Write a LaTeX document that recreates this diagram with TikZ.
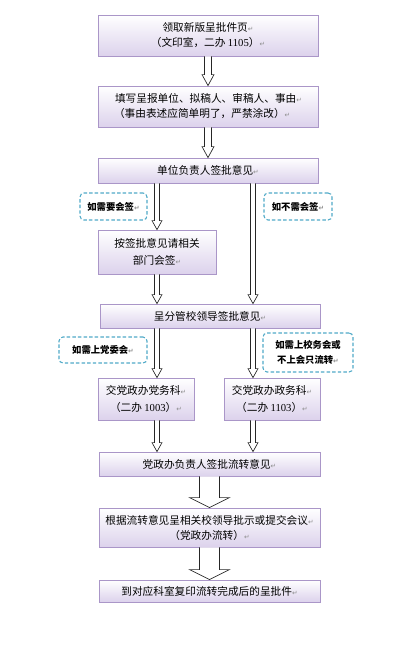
\documentclass[tikz,border=0pt]{standalone}
\usepackage{fontspec}
\setmainfont{Noto Sans CJK SC}
\newfontfamily\dejavu{DejaVu Sans}
\newfontfamily\latserif{Liberation Serif}
\usetikzlibrary{calc,shadows}
\definecolor{boxborder}{RGB}{170,150,200}
\definecolor{boxbot}{RGB}{220,210,236}
\definecolor{dashcol}{RGB}{80,170,200}
\newcommand\rt{{\dejavu\color{black!45}\fontsize{5}{5}\selectfont ↵}}
\newcommand\hollowarrow[5]{%
  \path #1 coordinate (ha) #2 coordinate (hb);
  \draw[arrowline] ($(ha)+(-#3,0)$) -- ($(hb)+(-#3,-#5)$) -- ($(hb)+(-#4,-#5)$) -- (hb)
    -- ($(hb)+(#4,-#5)$) -- ($(hb)+(#3,-#5)$) -- ($(ha)+(#3,0)$);
}
\begin{document}
\begin{tikzpicture}[x=0.75pt,y=-0.75pt,
  flowbox/.style={draw=boxborder, line width=0.6pt, top color=white, bottom color=boxbot,
    inner sep=0pt, align=center, font=\fontsize{8}{11.25}\selectfont,
    drop shadow={opacity=0.18, shadow xshift=0.8pt, shadow yshift=-0.8pt}},
  notebox/.style={draw=dashcol, line width=0.8pt, dash pattern=on 2.6pt off 1.6pt,
    rounded corners=3pt, fill=white, inner sep=0pt, align=center,
    font=\bfseries\fontsize{7}{11.25}\selectfont},
  arrowline/.style={draw=black!85, line width=0.5pt, fill=white, line join=miter}]
\fill[white] (0,0) rectangle (400,648);
\useasboundingbox (0,0) rectangle (400,648);
\coordinate (lx) at (157,0);
\coordinate (rx) at (253,0);
% boxes
\node[flowbox, minimum width=165pt, minimum height=30.75pt] (b1) at (208,35.5)
  {领取新版呈批件页\rt\\（文印室，二办 {\latserif 1105}）\rt};
\node[flowbox, minimum width=165pt, minimum height=30.75pt, align=left] (b2) at (208,106.5)
  {\hspace*{0.8pt}填写呈报单位、拟稿人、审稿人、事由\rt\\（事由表述应简单明了，严禁涂改）\rt};
\node[flowbox, minimum width=165pt, minimum height=18.75pt] (b3) at (208,170.5)
  {单位负责人签批意见\rt};
\node[flowbox, minimum width=88.5pt, minimum height=33pt, font=\fontsize{8}{12.75}\selectfont] (b4) at (157,252)
  {按签批意见请相关\\部门会签\rt};
\node[flowbox, minimum width=165pt, minimum height=18pt] (b5) at (210,316)
  {呈分管校领导签批意见\rt};
\node[flowbox, minimum width=72pt, minimum height=31.5pt, font=\fontsize{8}{12.75}\selectfont] (b6) at (146,399)
  {交党政办党务科\rt\\（二办 {\latserif 1003}）\rt};
\node[flowbox, minimum width=72pt, minimum height=31.5pt, font=\fontsize{8}{12.75}\selectfont] (b7) at (272,399)
  {交党政办政务科\rt\\（二办 {\latserif 1103}）\rt};
\node[flowbox, minimum width=165.75pt, minimum height=18pt] (b8) at (209.5,464)
  {党政办负责人签批流转意见\rt};
\node[flowbox, minimum width=165.75pt, minimum height=29.25pt] (b9) at (209.5,527.5)
  {根据流转意见呈相关校领导批示或提交会议\rt\\（党政办流转）\rt};
\node[flowbox, minimum width=165.75pt, minimum height=16.5pt] (b10) at (209.5,591)
  {到对应科室复印流转完成后的呈批件\rt};
% dashed notes
\node[notebox, minimum width=50.25pt, minimum height=20.25pt] (d1) at (113.5,206.5) {如需要会签\rt};
\node[notebox, minimum width=51pt, minimum height=20.25pt] (d2) at (298,206.5) {如不需会签\rt};
\node[notebox, minimum width=66pt, minimum height=19.5pt] (d3) at (103,350) {如需上党委会\rt};
\node[notebox, minimum width=67.5pt, minimum height=29.25pt] (d4) at (308,352.5) {如需上校务会或\\不上会只流转\rt};
% arrows
\hollowarrow{(b1.south)}{(b2.north)}{3.5}{6}{11}
\hollowarrow{(b2.south)}{(b3.north)}{3.5}{6}{11}
\hollowarrow{(lx |- b3.south)}{(lx |- b4.north)}{2.5}{5}{9}
\hollowarrow{(rx |- b3.south)}{(rx |- b5.north)}{2.5}{5}{9}
\hollowarrow{(lx |- b4.south)}{(lx |- b5.north)}{2.5}{5}{9}
\hollowarrow{(lx |- b5.south)}{(lx |- b6.north)}{2.5}{5}{9}
\hollowarrow{(rx |- b5.south)}{(rx |- b7.north)}{2.5}{5}{9}
\hollowarrow{(lx |- b6.south)}{(lx |- b8.north)}{2.5}{5}{9}
\hollowarrow{(rx |- b7.south)}{(rx |- b8.north)}{2.5}{5}{9}
\hollowarrow{(b8.south)}{(b9.north)}{10}{20}{10}
\hollowarrow{(b9.south)}{(b10.north)}{10}{20}{10}
\end{tikzpicture}
\end{document}
